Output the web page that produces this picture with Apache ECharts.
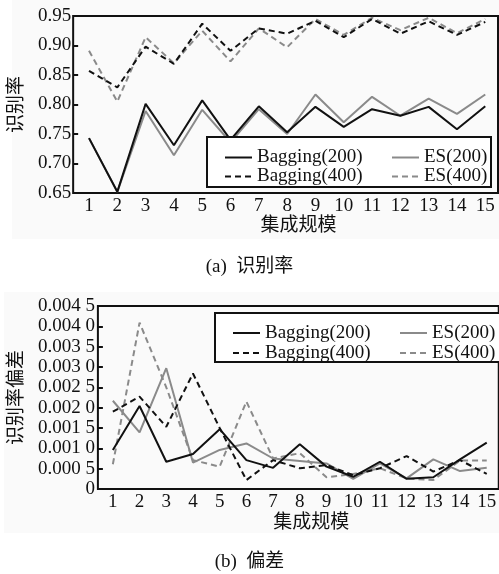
<!DOCTYPE html>
<html>
<head>
<meta charset="utf-8">
<script src="https://cdn.jsdelivr.net/npm/echarts@6/dist/echarts.min.js"></script>
<style>
html,body{margin:0;padding:0;background:#fff;}
#c{width:499px;height:574px;}
</style>
</head>
<body>
<div id="c"></div>
<script>
// ---- data ----
const sizes = [1,2,3,4,5,6,7,8,9,10,11,12,13,14,15];
const seriesNames = ['Bagging(200)','Bagging(400)','ES(200)','ES(400)'];

// (a) recognition rate
const bag200A = [0.743,0.652,0.801,0.731,0.807,0.740,0.797,0.753,0.796,0.762,0.792,0.781,0.796,0.758,0.797];
const bag400A = [0.857,0.829,0.898,0.869,0.937,0.891,0.929,0.920,0.942,0.914,0.945,0.920,0.941,0.918,0.940];
const es200A  = [0.743,0.652,0.789,0.714,0.791,0.736,0.792,0.750,0.817,0.770,0.813,0.781,0.810,0.784,0.817];
const es400A  = [0.891,0.805,0.914,0.870,0.925,0.873,0.929,0.897,0.945,0.918,0.947,0.926,0.947,0.921,0.945];

// (b) deviation
const bag200B = [0.00096,0.00204,0.00067,0.00086,0.00147,0.00071,0.00052,0.00110,0.00055,0.00030,0.00067,0.00025,0.00029,0.00073,0.00114];
const bag400B = [0.00190,0.00227,0.00153,0.00284,0.00150,0.00022,0.00071,0.00051,0.00059,0.00034,0.00051,0.00081,0.00043,0.00071,0.00037];
const es200B  = [0.00217,0.00139,0.00297,0.00065,0.00096,0.00112,0.00075,0.00069,0.00063,0.00025,0.00063,0.00026,0.00073,0.00044,0.00052];
const es400B  = [0.00061,0.00409,0.00250,0.00071,0.00055,0.00215,0.00075,0.00088,0.00029,0.00037,0.00051,0.00026,0.00022,0.00070,0.00070];

const yTicksB = ['0','0.000 5','0.001 0','0.001 5','0.002 0','0.002 5','0.003 0','0.003 5','0.004 0','0.004 5'];

// ---- styling ----
const SERIF = "'Liberation Serif','Times New Roman','Noto Sans CJK SC',serif";
const MIX = "'Liberation Serif','Noto Sans CJK SC',serif";
const FS = 19;
const BLACK = '#111';
const GRAY = '#8a8a8a';
const styles = [
  {color: BLACK, type: 'solid'},
  {color: BLACK, type: [6,4]},
  {color: GRAY, type: 'solid'},
  {color: GRAY, type: [6,4]}
];

function pairs(arr){ return sizes.map((s,i)=>[s, arr[i]]); }

function mkSeries(datas, gi){
  return datas.map((d,i)=>({
    name: seriesNames[i],
    type: 'line',
    xAxisIndex: gi, yAxisIndex: gi,
    data: pairs(d),
    symbol: 'none',
    lineStyle: {color: styles[i].color, width: 2, type: styles[i].type},
    itemStyle: {color: styles[i].color},
    z: i < 2 ? 3 : 2
  }));
}

function xAxis(gi, nameGap){
  return {
    type: 'value', gridIndex: gi, min: 0.44, max: 15.45,
    name: '集成规模', nameLocation: 'middle', nameGap: nameGap,
    nameTextStyle: {fontFamily: MIX, fontSize: FS, color: BLACK, padding: [0,0,0,26]},
    axisLine: {show: false}, axisTick: {show: false}, splitLine: {show: false},
    axisLabel: {customValues: sizes, margin: 4, fontFamily: SERIF, fontSize: FS, color: BLACK,
      formatter: v => String(Math.round(v))}
  };
}

function legendPair(names, left, top, lh){
  return {
    orient: 'vertical', left: left, top: top, itemGap: 0,
    itemWidth: 27, itemHeight: 12,
    data: names,
    z: 10,
    itemStyle: {color: 'rgba(0,0,0,0)', borderColor: 'rgba(0,0,0,0)', borderWidth: 0, opacity: 0},
    textStyle: {fontFamily: SERIF, fontSize: FS, color: BLACK, lineHeight: lh}
  };
}

const yTick = {show: true, inside: true, length: 5, lineStyle: {color: BLACK, width: 2}};

const chart = echarts.init(document.getElementById('c'), null, {renderer: 'canvas'});
chart.setOption({
  animation: false,
  backgroundColor: '#fff',
  graphic: [
    {type:'rect', z:-10, shape:{x:12,y:0,width:487,height:239}, style:{fill:'#fafafa'}},
    {type:'rect', z:-10, shape:{x:4,y:292,width:495,height:241}, style:{fill:'#fafafa'}},
    {type:'rect', z:5, shape:{x:207,y:137,width:284,height:50}, style:{fill:'#fff', stroke:BLACK, lineWidth:2}},
    {type:'rect', z:5, shape:{x:215,y:313,width:300,height:49}, style:{fill:'#fff', stroke:BLACK, lineWidth:2}},
    {type:'text', z:5, left: 'center', top: 258, style:{text:'(a)  识别率', font: '19px ' + MIX, fill: BLACK}},
    {type:'text', z:5, left: 'center', top: 553, style:{text:'(b)  偏差', font: '19px ' + MIX, fill: BLACK}}
  ],
  legend: [
    legendPair(['Bagging(200)','Bagging(400)'], 219, 143, 19),
    legendPair(['ES(200)','ES(400)'], 386, 143, 19),
    legendPair(['Bagging(200)','Bagging(400)'], 227, 318, 20),
    legendPair(['ES(200)','ES(400)'], 394, 318, 20)
  ],
  grid: [
    {left: 69, top: 16, width: 429, height: 177, show: true, borderColor: BLACK, borderWidth: 2, backgroundColor: 'transparent'},
    {left: 90, top: 306, width: 419, height: 183, show: true, borderColor: BLACK, borderWidth: 2, backgroundColor: 'transparent'}
  ],
  xAxis: [xAxis(0, 24), xAxis(1, 25)],
  yAxis: [
    {
      type: 'value', gridIndex: 0, min: 0.65, max: 0.95, interval: 0.05,
      name: '识别率', nameLocation: 'middle', nameGap: 31,
      nameTextStyle: {fontFamily: MIX, fontSize: FS, color: BLACK},
      axisLine: {show: false}, axisTick: yTick, splitLine: {show: false},
      axisLabel: {margin: 2, fontFamily: SERIF, fontSize: FS, color: BLACK, formatter: v => v.toFixed(2)}
    },
    {
      type: 'value', gridIndex: 1, min: 0, max: 0.0045, interval: 0.0005,
      name: '识别率偏差', nameLocation: 'middle', nameGap: 66,
      nameTextStyle: {fontFamily: MIX, fontSize: FS, color: BLACK},
      axisLine: {show: false}, axisTick: yTick, splitLine: {show: false},
      axisLabel: {margin: 3, fontFamily: SERIF, fontSize: FS, color: BLACK,
        formatter: v => yTicksB[Math.round(v / 0.0005)]}
    }
  ],
  series: [].concat(
    mkSeries([bag200A, bag400A, es200A, es400A], 0),
    mkSeries([bag200B, bag400B, es200B, es400B], 1)
  )
});
</script>
</body>
</html>
